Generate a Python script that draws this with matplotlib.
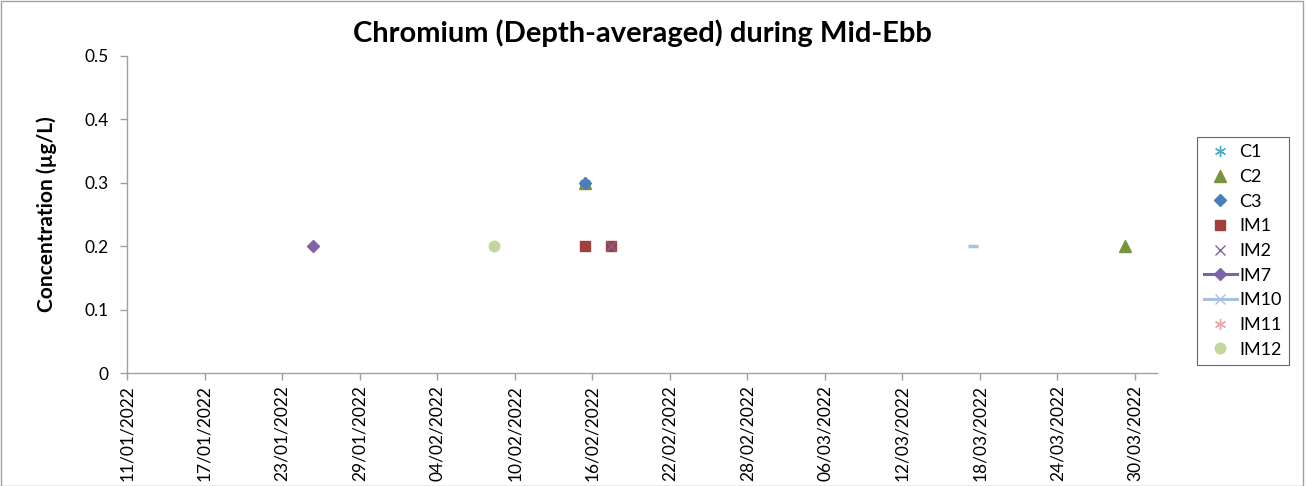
import matplotlib
matplotlib.use("Agg")
import matplotlib.pyplot as plt
import matplotlib.dates as mdates
from matplotlib.lines import Line2D
from matplotlib.patches import Rectangle
import pandas as pd

plt.rcParams['font.family'] = ['Lato', 'DejaVu Sans']

# sampling times and depth-averaged chromium (ug/L) per station
c1_dates = ["2022-02-15 10:00"]
c1_vals = [0.3]
c2_dates = ["2022-02-15 10:00", "2022-03-29 05:00"]
c2_vals = [0.3, 0.2]
c3_dates = ["2022-02-15 10:00"]
c3_vals = [0.3]
im1_dates = ["2022-02-15 10:00", "2022-02-17 10:00"]
im1_vals = [0.2, 0.2]
im2_dates = ["2022-02-17 10:00"]
im2_vals = [0.2]
im7_dates = ["2022-01-25 10:00"]
im7_vals = [0.2]
im10_dates = ["2022-03-17 11:00"]
im10_vals = [0.2]
im11_dates = ["2022-02-08 10:00", "2022-02-17 10:00"]
im11_vals = [0.2, 0.2]
im12_dates = ["2022-02-08 10:00"]
im12_vals = [0.2]

tick_start = "2022-01-11"
tick_end = "2022-03-30"
x_max = "2022-03-31 17:00"

styles = {
    "C1":   dict(marker=(6, 2, 0), color="#4BACC6", ms=8, ls="none", mew=1.0),
    "C2":   dict(marker="^", color="#77933C", ms=8, ls="none"),
    "C3":   dict(marker="D", color="#4A7EBB", ms=6.5, ls="none"),
    "IM1":  dict(marker="s", color="#A0413E", ms=7.5, ls="none"),
    "IM2":  dict(marker="x", color="#7E62A6", ms=7, ls="none", mew=1.0),
    "IM7":  dict(marker="D", color="#7F63A8", ms=6, ls="-", lw=2.2),
    "IM10": dict(marker="x", color="#A8C1DF", ms=7, ls="-", lw=2.2, mew=1.0),
    "IM11": dict(marker=(6, 2, 0), color="#E6A9A8", ms=8, ls="none", mew=1.0),
    "IM12": dict(marker="o", color="#C3D69B", ms=7.5, ls="none"),
}

fig = plt.figure(figsize=(13.06, 4.86), dpi=100)
ax = fig.add_axes([127 / 1306, 1 - 373 / 486, (1157 - 127) / 1306, (373 - 56) / 486])

def pts(dates):
    return pd.to_datetime(dates)

ax.plot(pts(im11_dates), im11_vals, **styles["IM11"], zorder=2)
ax.plot(pts(im12_dates), im12_vals, **styles["IM12"], zorder=3)
ax.plot(pts(im7_dates), im7_vals, marker="D", color="#7F63A8", ms=6, ls="none", zorder=3)
ax.plot(pts(im10_dates), im10_vals, marker="_", color="#A8C1DF", ms=7, mew=2.5, ls="none", zorder=3)
ax.plot(pts(im1_dates), im1_vals, **styles["IM1"], zorder=3)
ax.plot(pts(im2_dates), im2_vals, **styles["IM2"], zorder=4)
ax.plot(pts(c1_dates), c1_vals, **styles["C1"], zorder=3)
ax.plot(pts(c2_dates), c2_vals, **styles["C2"], zorder=3)
ax.plot(pts(c3_dates), c3_vals, **styles["C3"], zorder=4)

ax.set_ylim(0, 0.5)
ax.set_yticks([0, 0.1, 0.2, 0.3, 0.4, 0.5])
ax.set_yticklabels(["0", "0.1", "0.2", "0.3", "0.4", "0.5"])
ax.set_xlim(pd.Timestamp(tick_start), pd.Timestamp(x_max))
ax.set_xticks(pd.date_range(tick_start, tick_end, freq="6D"))
ax.xaxis.set_major_formatter(mdates.DateFormatter("%d/%m/%Y"))
plt.setp(ax.get_xticklabels(), rotation=90)

for side in ["top", "right"]:
    ax.spines[side].set_visible(False)
for side in ["left", "bottom"]:
    ax.spines[side].set_color("#A0A0A0")
    ax.spines[side].set_linewidth(1.0)
ax.tick_params(axis="both", colors="#A0A0A0", length=5, width=1.0, labelsize=12.5,
               labelcolor="black", direction="out")
ax.tick_params(axis="y", pad=8)

ax.set_title("Chromium (Depth-averaged) during Mid-Ebb", fontsize=21, fontweight="bold", pad=10)
ax.set_ylabel("Concentration (µg/L)", fontsize=15, fontweight="bold", labelpad=20)

handles = [Line2D([], [], **styles[k]) for k in styles]
leg = fig.legend(handles, list(styles.keys()), loc="upper right",
                 bbox_to_anchor=(1289 / 1306, 1 - 137 / 486), borderaxespad=0,
                 frameon=True, fancybox=False, edgecolor="#404040", fontsize=13,
                 handlelength=1.8, handletextpad=0.15, labelspacing=0.48, borderpad=0.4)
leg.get_frame().set_linewidth(0.8)

fig.patches.append(Rectangle((0.001, 0.001), 0.997, 0.997, transform=fig.transFigure,
                             fill=False, edgecolor="#A0A0A0", linewidth=1.0))

fig.savefig("out.png", dpi=100)
